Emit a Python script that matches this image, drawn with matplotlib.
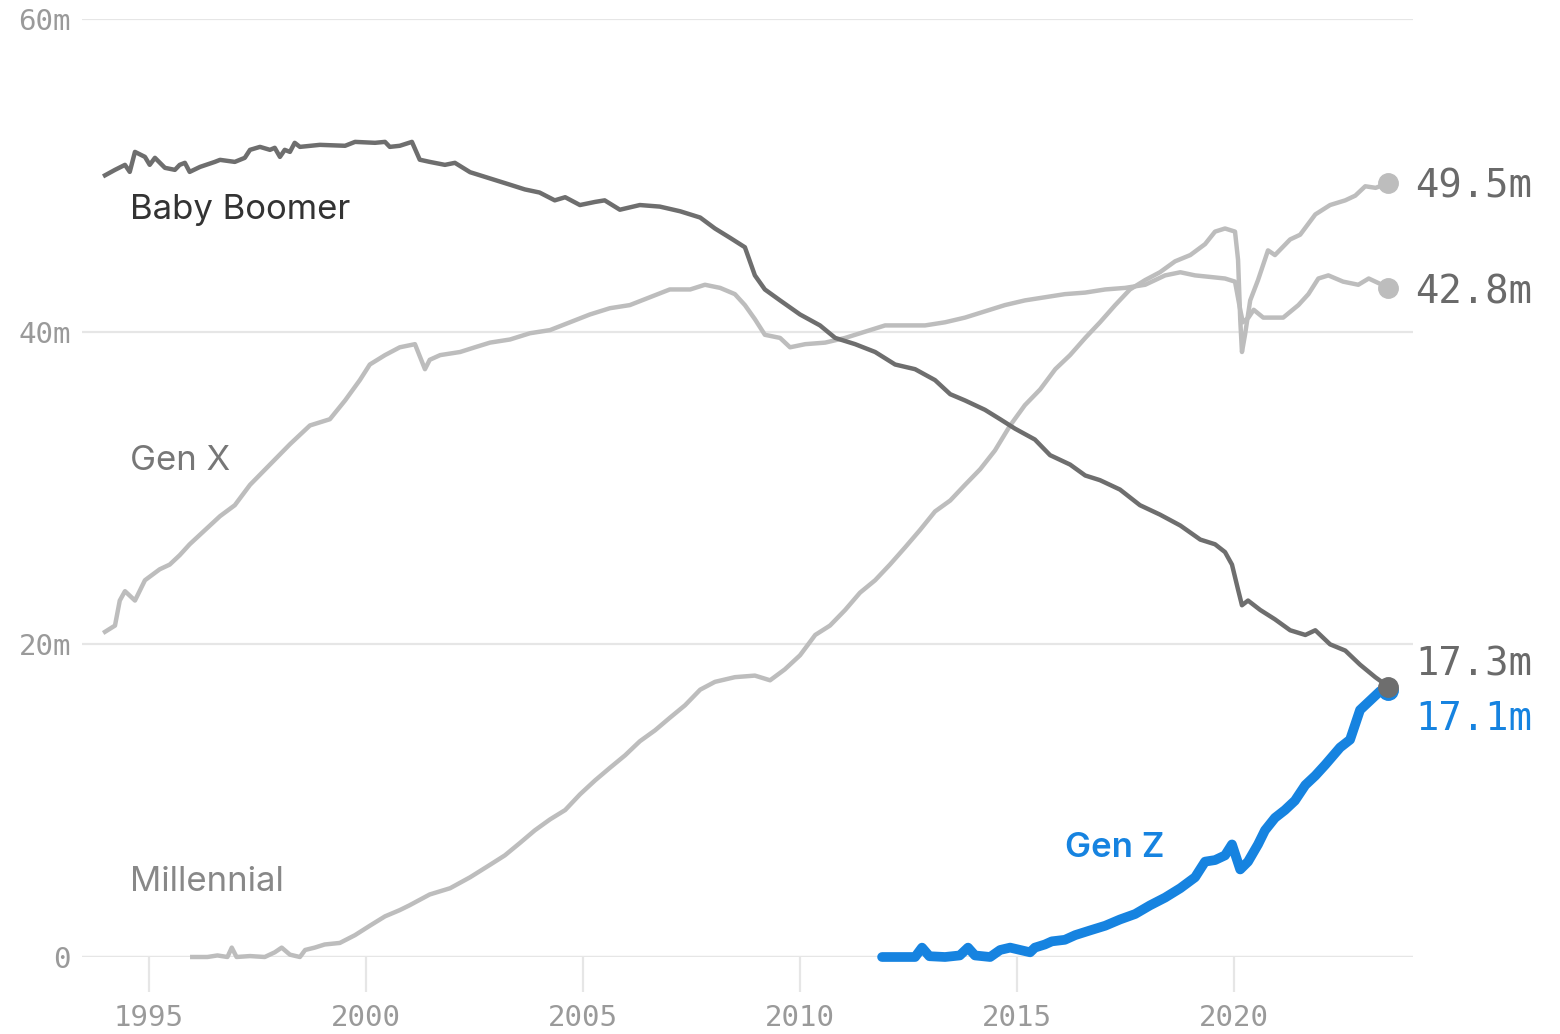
import matplotlib
matplotlib.use('Agg')
import matplotlib.pyplot as plt

# values (millions of workers)
boomer_x = [1993.99, 1994.22, 1994.45, 1994.56, 1994.68, 1994.91, 1995.02, 1995.14, 1995.37, 1995.6,
            1995.71, 1995.83, 1995.94, 1996.18, 1996.52, 1996.64, 1996.98, 1997.21, 1997.33, 1997.56,
            1997.79, 1997.9, 1998.02, 1998.13, 1998.25, 1998.36, 1998.48, 1998.94, 1999.52, 1999.75,
            2000.21, 2000.44, 2000.55, 2000.78, 2001.06, 2001.24, 2001.47, 2001.82, 2002.05, 2002.4,
            2002.86, 2003.32, 2003.66, 2004.0, 2004.35, 2004.59, 2004.93, 2005.28, 2005.5, 2005.85,
            2006.31, 2006.77, 2007.24, 2007.7, 2008.04, 2008.39, 2008.73, 2008.96, 2009.19, 2009.54,
            2010.0, 2010.46, 2010.81, 2011.27, 2011.73, 2012.19, 2012.65, 2013.11, 2013.46, 2013.8,
            2014.26, 2014.61, 2014.95, 2015.41, 2015.76, 2016.22, 2016.57, 2016.91, 2017.37, 2017.83,
            2018.29, 2018.76, 2019.22, 2019.56, 2019.79, 2019.95, 2020.09, 2020.18, 2020.32, 2020.6,
            2020.94, 2021.29, 2021.64, 2021.87, 2022.21, 2022.56, 2022.9, 2023.25, 2023.55]
boomer_y = [50.0, 50.35, 50.67, 50.22, 51.5, 51.18, 50.67, 51.12, 50.48, 50.35,
            50.67, 50.8, 50.22, 50.54, 50.86, 50.99, 50.86, 51.12, 51.63, 51.82,
            51.63, 51.76, 51.18, 51.63, 51.5, 52.08, 51.82, 51.95, 51.89, 52.14,
            52.08, 52.14, 51.82, 51.89, 52.14, 51.0, 50.86, 50.67, 50.8, 50.2,
            49.8, 49.4, 49.1, 48.9, 48.4, 48.6, 48.1, 48.3, 48.4, 47.8,
            48.1, 48.0, 47.7, 47.3, 46.6, 46.0, 45.4, 43.6, 42.7, 42.0,
            41.1, 40.4, 39.6, 39.2, 38.7, 37.9, 37.6, 36.9, 36.0, 35.6,
            35.0, 34.4, 33.8, 33.1, 32.1, 31.5, 30.8, 30.5, 29.9, 28.9,
            28.3, 27.6, 26.7, 26.4, 25.9, 25.1, 23.5, 22.5, 22.8, 22.2,
            21.6, 20.9, 20.6, 20.9, 20.0, 19.6, 18.7, 17.9, 17.3]

genx_x = [1993.99, 1994.22, 1994.33, 1994.45, 1994.68, 1994.91, 1995.25, 1995.48, 1995.71, 1995.94,
          1996.29, 1996.64, 1996.98, 1997.33, 1997.79, 1998.25, 1998.71, 1999.17, 1999.52, 1999.86,
          2000.09, 2000.44, 2000.78, 2001.13, 2001.36, 2001.47, 2001.71, 2002.17, 2002.51, 2002.86,
          2003.32, 2003.78, 2004.24, 2004.7, 2005.16, 2005.62, 2006.08, 2006.54, 2007.0, 2007.47,
          2007.81, 2008.16, 2008.5, 2008.73, 2008.96, 2009.19, 2009.54, 2009.77, 2010.12, 2010.58,
          2011.04, 2011.5, 2011.96, 2012.42, 2012.88, 2013.34, 2013.8, 2014.26, 2014.72, 2015.18,
          2015.64, 2016.1, 2016.57, 2017.03, 2017.49, 2017.95, 2018.41, 2018.76, 2019.1, 2019.45,
          2019.79, 2020.02, 2020.14, 2020.2, 2020.33, 2020.45, 2020.67, 2021.13, 2021.48, 2021.71,
          2021.94, 2022.17, 2022.51, 2022.86, 2023.1, 2023.33, 2023.55]
genx_y = [20.8, 21.2, 22.8, 23.4, 22.8, 24.1, 24.8, 25.1, 25.7, 26.4,
          27.3, 28.2, 28.9, 30.2, 31.5, 32.8, 34.0, 34.4, 35.6, 36.9,
          37.9, 38.5, 39.0, 39.2, 37.6, 38.2, 38.5, 38.7, 39.0, 39.3,
          39.5, 39.9, 40.1, 40.6, 41.1, 41.5, 41.7, 42.2, 42.7, 42.7,
          43.0, 42.8, 42.4, 41.7, 40.8, 39.8, 39.6, 39.0, 39.2, 39.3,
          39.6, 40.0, 40.4, 40.4, 40.4, 40.6, 40.9, 41.3, 41.7, 42.0,
          42.2, 42.4, 42.5, 42.7, 42.8, 43.0, 43.6, 43.8, 43.6, 43.5,
          43.4, 43.2, 41.4, 40.6, 40.9, 41.4, 40.9, 40.9, 41.7, 42.4,
          43.4, 43.6, 43.2, 43.0, 43.4, 43.1, 42.8]

mill_x = [1996.0, 1996.35, 1996.58, 1996.81, 1996.91, 1997.02, 1997.33, 1997.67, 1997.9, 1998.06,
          1998.25, 1998.48, 1998.6, 1998.82, 1999.05, 1999.4, 1999.75, 2000.09, 2000.44, 2000.78,
          2001.0, 2001.47, 2001.94, 2002.4, 2002.86, 2003.2, 2003.55, 2003.89, 2004.24, 2004.59,
          2004.93, 2005.28, 2005.62, 2005.97, 2006.31, 2006.66, 2007.0, 2007.35, 2007.7, 2008.04,
          2008.5, 2008.96, 2009.31, 2009.65, 2010.0, 2010.35, 2010.69, 2011.04, 2011.38, 2011.73,
          2012.07, 2012.42, 2012.76, 2013.11, 2013.46, 2013.8, 2014.15, 2014.49, 2014.84, 2015.18,
          2015.53, 2015.88, 2016.22, 2016.57, 2016.91, 2017.26, 2017.6, 2017.95, 2018.29, 2018.64,
          2018.99, 2019.33, 2019.56, 2019.79, 2020.02, 2020.09, 2020.14, 2020.18, 2020.25, 2020.37,
          2020.55, 2020.78, 2020.94, 2021.29, 2021.52, 2021.87, 2022.21, 2022.56, 2022.79, 2023.02,
          2023.26, 2023.55]
mill_y = [0.0, 0.0, 0.1, 0.0, 0.6, 0.0, 0.06, 0.0, 0.3, 0.6,
          0.15, 0.0, 0.45, 0.6, 0.8, 0.9, 1.4, 2.0, 2.6, 3.0,
          3.3, 4.0, 4.4, 5.1, 5.9, 6.5, 7.3, 8.1, 8.8, 9.4,
          10.4, 11.3, 12.1, 12.9, 13.8, 14.5, 15.3, 16.1, 17.1, 17.6,
          17.9, 18.0, 17.7, 18.4, 19.3, 20.6, 21.2, 22.2, 23.3, 24.1,
          25.1, 26.2, 27.3, 28.5, 29.2, 30.2, 31.2, 32.4, 34.0, 35.3,
          36.3, 37.6, 38.5, 39.6, 40.6, 41.7, 42.7, 43.3, 43.8, 44.5,
          44.9, 45.6, 46.4, 46.6, 46.4, 44.6, 40.8, 38.7, 39.8, 42.0,
          43.3, 45.2, 44.9, 45.9, 46.2, 47.5, 48.1, 48.4, 48.7, 49.3,
          49.2, 49.5]

genz_x = [2011.89, 2012.3, 2012.65, 2012.81, 2012.98, 2013.34, 2013.68, 2013.87, 2014.03, 2014.38,
          2014.61, 2014.84, 2015.07, 2015.3, 2015.41, 2015.64, 2015.8, 2016.1, 2016.34, 2016.68,
          2017.03, 2017.37, 2017.72, 2018.06, 2018.41, 2018.76, 2019.1, 2019.33, 2019.56, 2019.79,
          2019.95, 2020.14, 2020.32, 2020.55, 2020.71, 2020.94, 2021.17, 2021.4, 2021.64, 2021.87,
          2022.1, 2022.44, 2022.67, 2022.9, 2023.13, 2023.36, 2023.55]
genz_y = [0.0, 0.0, 0.0, 0.6, 0.05, 0.0, 0.1, 0.6, 0.1, 0.0,
          0.45, 0.6, 0.45, 0.3, 0.6, 0.8, 1.0, 1.1, 1.4, 1.7,
          2.0, 2.4, 2.75, 3.3, 3.8, 4.4, 5.1, 6.1, 6.2, 6.5,
          7.2, 5.6, 6.1, 7.2, 8.1, 8.9, 9.4, 10.0, 11.0, 11.6,
          12.3, 13.4, 13.9, 15.8, 16.4, 17.0, 17.1]

end_labels = ['49.5m', '42.8m', '17.3m', '17.1m']
yticks = [0, 20, 40, 60]
ytick_labels = ['0', '20m', '40m', '60m']
xticks = [1995, 2000, 2005, 2010, 2015, 2020]

DARK = '#6e6e6e'
LIGHT = '#bdbdbd'
BLUE = '#1683e0'
GRID = '#e6e6e6'
MONO = 'DejaVu Sans Mono'
SANS = 'Inter'

fig = plt.figure(figsize=(15.6, 10.34), dpi=100)
ax = fig.add_axes([82/1560, 77/1034, 1331/1560, 938/1034])

ax.plot(mill_x, mill_y, color=LIGHT, lw=3.2, clip_on=False, solid_joinstyle='round', zorder=2)
ax.plot(genx_x, genx_y, color=LIGHT, lw=3.2, clip_on=False, solid_joinstyle='round', zorder=2)
ax.plot(boomer_x, boomer_y, color=DARK, lw=3.2, clip_on=False, solid_joinstyle='round', zorder=3)
ax.plot(genz_x, genz_y, color=BLUE, lw=7.0, clip_on=False, solid_joinstyle='round',
        solid_capstyle='round', zorder=4)

# end dots
ax.plot([mill_x[-1]], [mill_y[-1]], 'o', color=LIGHT, ms=14, clip_on=False, zorder=5)
ax.plot([genx_x[-1]], [genx_y[-1]], 'o', color=LIGHT, ms=14, clip_on=False, zorder=5)
ax.plot([genz_x[-1]], [genz_y[-1]], 'o', color=BLUE, ms=14, clip_on=False, zorder=5)
ax.plot([boomer_x[-1]], [boomer_y[-1]], 'o', color=DARK, ms=14, clip_on=False, zorder=6)

ax.set_xlim(1993.46, 2024.12)
ax.set_ylim(0, 60)

for s in ax.spines.values():
    s.set_visible(False)
ax.set_yticks(yticks)
ax.set_yticklabels(ytick_labels)
ax.set_xticks(xticks)
ax.grid(axis='y', color=GRID, lw=1.6, zorder=0)
ax.set_axisbelow(True)
ax.tick_params(axis='y', length=0, pad=8, labelsize=21, labelcolor='#9a9a9a')
ax.tick_params(axis='x', length=25, width=1.6, color=GRID, pad=9, labelsize=21, labelcolor='#9a9a9a')
for lab in ax.get_xticklabels() + ax.get_yticklabels():
    lab.set_fontfamily(MONO)
ax.axhline(0, color=GRID, lw=1.6, zorder=0)

# series names
ax.text(1994.56, 47.8, 'Baby Boomer', fontsize=25, color='#333333', family=SANS, va='center')
ax.text(1994.56, 31.7, 'Gen X', fontsize=25, color='#777777', family=SANS, va='center')
ax.text(1994.56, 4.8, 'Millennial', fontsize=25, color='#888888', family=SANS, va='center')
ax.text(2016.11, 7.0, 'Gen Z', fontsize=25, color=BLUE, family=SANS, va='center', weight='semibold')

# end values
ax.text(2024.17, 49.3, end_labels[0], fontsize=28, color='#6a6a6a', family=MONO, va='center')
ax.text(2024.17, 42.5, end_labels[1], fontsize=28, color='#6a6a6a', family=MONO, va='center')
ax.text(2024.17, 18.7, end_labels[2], fontsize=28, color='#6a6a6a', family=MONO, va='center')
ax.text(2024.17, 15.2, end_labels[3], fontsize=28, color=BLUE, family=MONO, va='center')

fig.savefig('out.png', dpi=100, facecolor='white')
